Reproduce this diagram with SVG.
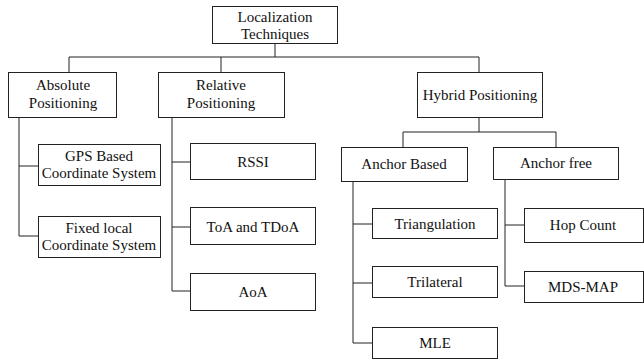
<svg xmlns="http://www.w3.org/2000/svg" width="644" height="360" viewBox="0 0 644 360">
<style>
rect{fill:#fff;stroke:#222;stroke-width:1}
text{fill:#111;text-anchor:middle}
.c path{fill:none;stroke:#222;stroke-width:1}
</style>
<rect x="0" y="0" width="644" height="360" style="stroke:none"/>
<g class="c" id="connectors">
<path d="M275 43V57M69 57H479M69 57V72M221 57V72M479 57V72"/>
<path d="M19 117V236M19 166H38M19 236H38"/>
<path d="M172 117V291M172 162H190M172 227H190M172 291H190"/>
<path d="M479 117V132M403 132H556M403 132V147M556 132V147"/>
<path d="M353 181V343M353 224H372M353 283H372M353 343H372"/>
<path d="M505 179V286M505 225H524M505 286H524"/>
</g>
<g font-family="Liberation Serif" font-size="15">
<g id="root"><rect x="212.5" y="6.5" width="125" height="37"/><text x="275" y="22">Localization</text><text x="275" y="39">Techniques</text></g>
<g id="absolute"><rect x="8.5" y="72.5" width="108" height="45"/><text x="63" y="90">Absolute</text><text x="63" y="108">Positioning</text></g>
<g id="relative"><rect x="158.5" y="72.5" width="126" height="45"/><text x="221" y="90">Relative</text><text x="221" y="108">Positioning</text></g>
<g id="hybrid"><rect x="417.5" y="72.5" width="125" height="45"/><text x="480" y="100">Hybrid Positioning</text></g>
<g id="gps"><rect x="38.5" y="144.5" width="122" height="41"/><text x="99" y="161">GPS Based</text><text x="99" y="178">Coordinate System</text></g>
<g id="fixed"><rect x="38.5" y="216.5" width="122" height="41"/><text x="99" y="233">Fixed local</text><text x="99" y="250">Coordinate System</text></g>
<g id="rssi"><rect x="190.5" y="143.5" width="125" height="36"/><text x="253" y="167">RSSI</text></g>
<g id="toa"><rect x="190.5" y="207.5" width="125" height="37"/><text x="253" y="232">ToA and TDoA</text></g>
<g id="aoa"><rect x="190.5" y="273.5" width="125" height="37"/><text x="253" y="297">AoA</text></g>
<g id="anchorbased"><rect x="341.5" y="147.5" width="126" height="34"/><text x="404" y="169">Anchor Based</text></g>
<g id="anchorfree"><rect x="493.5" y="147.5" width="125" height="32"/><text x="556" y="168">Anchor free</text></g>
<g id="triangulation"><rect x="372.5" y="208.5" width="125" height="30"/><text x="435" y="229">Triangulation</text></g>
<g id="trilateral"><rect x="372.5" y="266.5" width="125" height="31"/><text x="435" y="287">Trilateral</text></g>
<g id="mle"><rect x="372.5" y="327.5" width="125" height="31"/><text x="435" y="348">MLE</text></g>
<g id="hopcount"><rect x="524.5" y="208.5" width="119" height="34"/><text x="583" y="230">Hop Count</text></g>
<g id="mdsmap"><rect x="524.5" y="271.5" width="119" height="31"/><text x="583" y="292">MDS-MAP</text></g>
</g>
</svg>
